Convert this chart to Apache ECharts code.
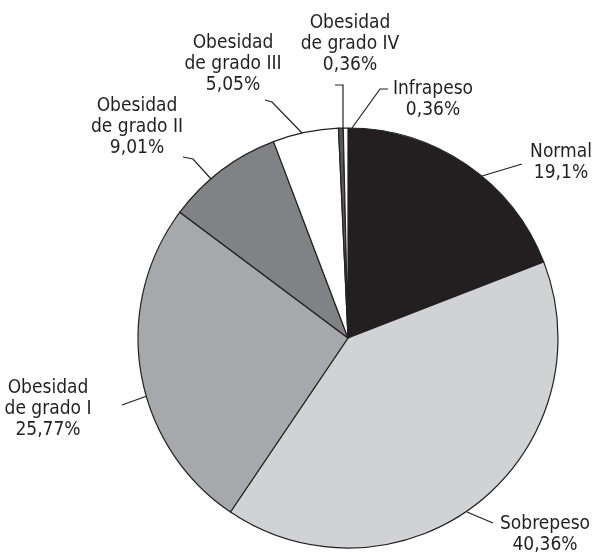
<!DOCTYPE html>
<html>
<head>
<meta charset="utf-8">
<script src="https://cdn.jsdelivr.net/npm/echarts@6/dist/echarts.min.js"></script>
<style>
html,body{margin:0;padding:0;background:#fff;}
#chart{width:594px;height:552px;}
</style>
</head>
<body>
<div id="chart"></div>
<script>
// Data (clockwise from 12 o'clock)
const categories = ['Normal', 'Sobrepeso', 'Obesidad\nde grado I', 'Obesidad\nde grado II', 'Obesidad\nde grado III', 'Obesidad\nde grado IV', 'Infrapeso'];
const values = [19.1, 40.36, 25.77, 9.01, 5.05, 0.36, 0.36];

// Styles / label placement
const colors = ['#231f20', '#d1d2d4', '#a7a8ab', '#808285', '#ffffff', '#58595b', '#ffffff'];
const labelPos = [[561,163],[545,535],[48,409],[137,127],[233,64],[350,44],[433,100]];
const labelLines = [
  [[482,176],[522,164],[522,164]],
  [[467,512],[493,523],[493,523]],
  [[147,396],[122,405],[122,405]],
  [[212,180],[193,159],[183,157]],
  [[302,133],[272,102],[265,100]],
  [[343,129],[343,85],[335,85]],
  [[352,128],[380,89],[388,89]]
];

const chart = echarts.init(document.getElementById('chart'), null, {renderer:'canvas'});
const FONT = '"DejaVu Sans Condensed", "Liberation Sans Narrow", sans-serif';

chart.setOption({
  animation: false,
  backgroundColor: '#ffffff',
  series: [{
    type: 'pie',
    center: [348, 338],
    radius: 210,
    startAngle: 90,
    clockwise: true,
    avoidLabelOverlap: false,
    data: categories.map((c, i) => ({
      name: c,
      value: values[i],
      itemStyle: { color: colors[i] }
    })),
    itemStyle: { borderColor: '#231f20', borderWidth: 1.2 },
    label: {
      show: true,
      position: 'outside',
      color: '#231f20',
      fontFamily: FONT,
      fontSize: 19,
      lineHeight: 21,
      align: 'center',
      formatter: p => p.name + '\n' + String(p.value).replace('.', ',') + '%'
    },
    labelLine: {
      show: true,
      length: 10,
      length2: 10,
      lineStyle: { color: '#231f20', width: 1.2 }
    },
    labelLayout: function (params) {
      const i = params.dataIndex;
      return {
        x: labelPos[i][0],
        y: labelPos[i][1],
        align: 'center',
        verticalAlign: 'middle',
        labelLinePoints: labelLines[i]
      };
    },
    emphasis: { disabled: true }
  }]
});
</script>
</body>
</html>
